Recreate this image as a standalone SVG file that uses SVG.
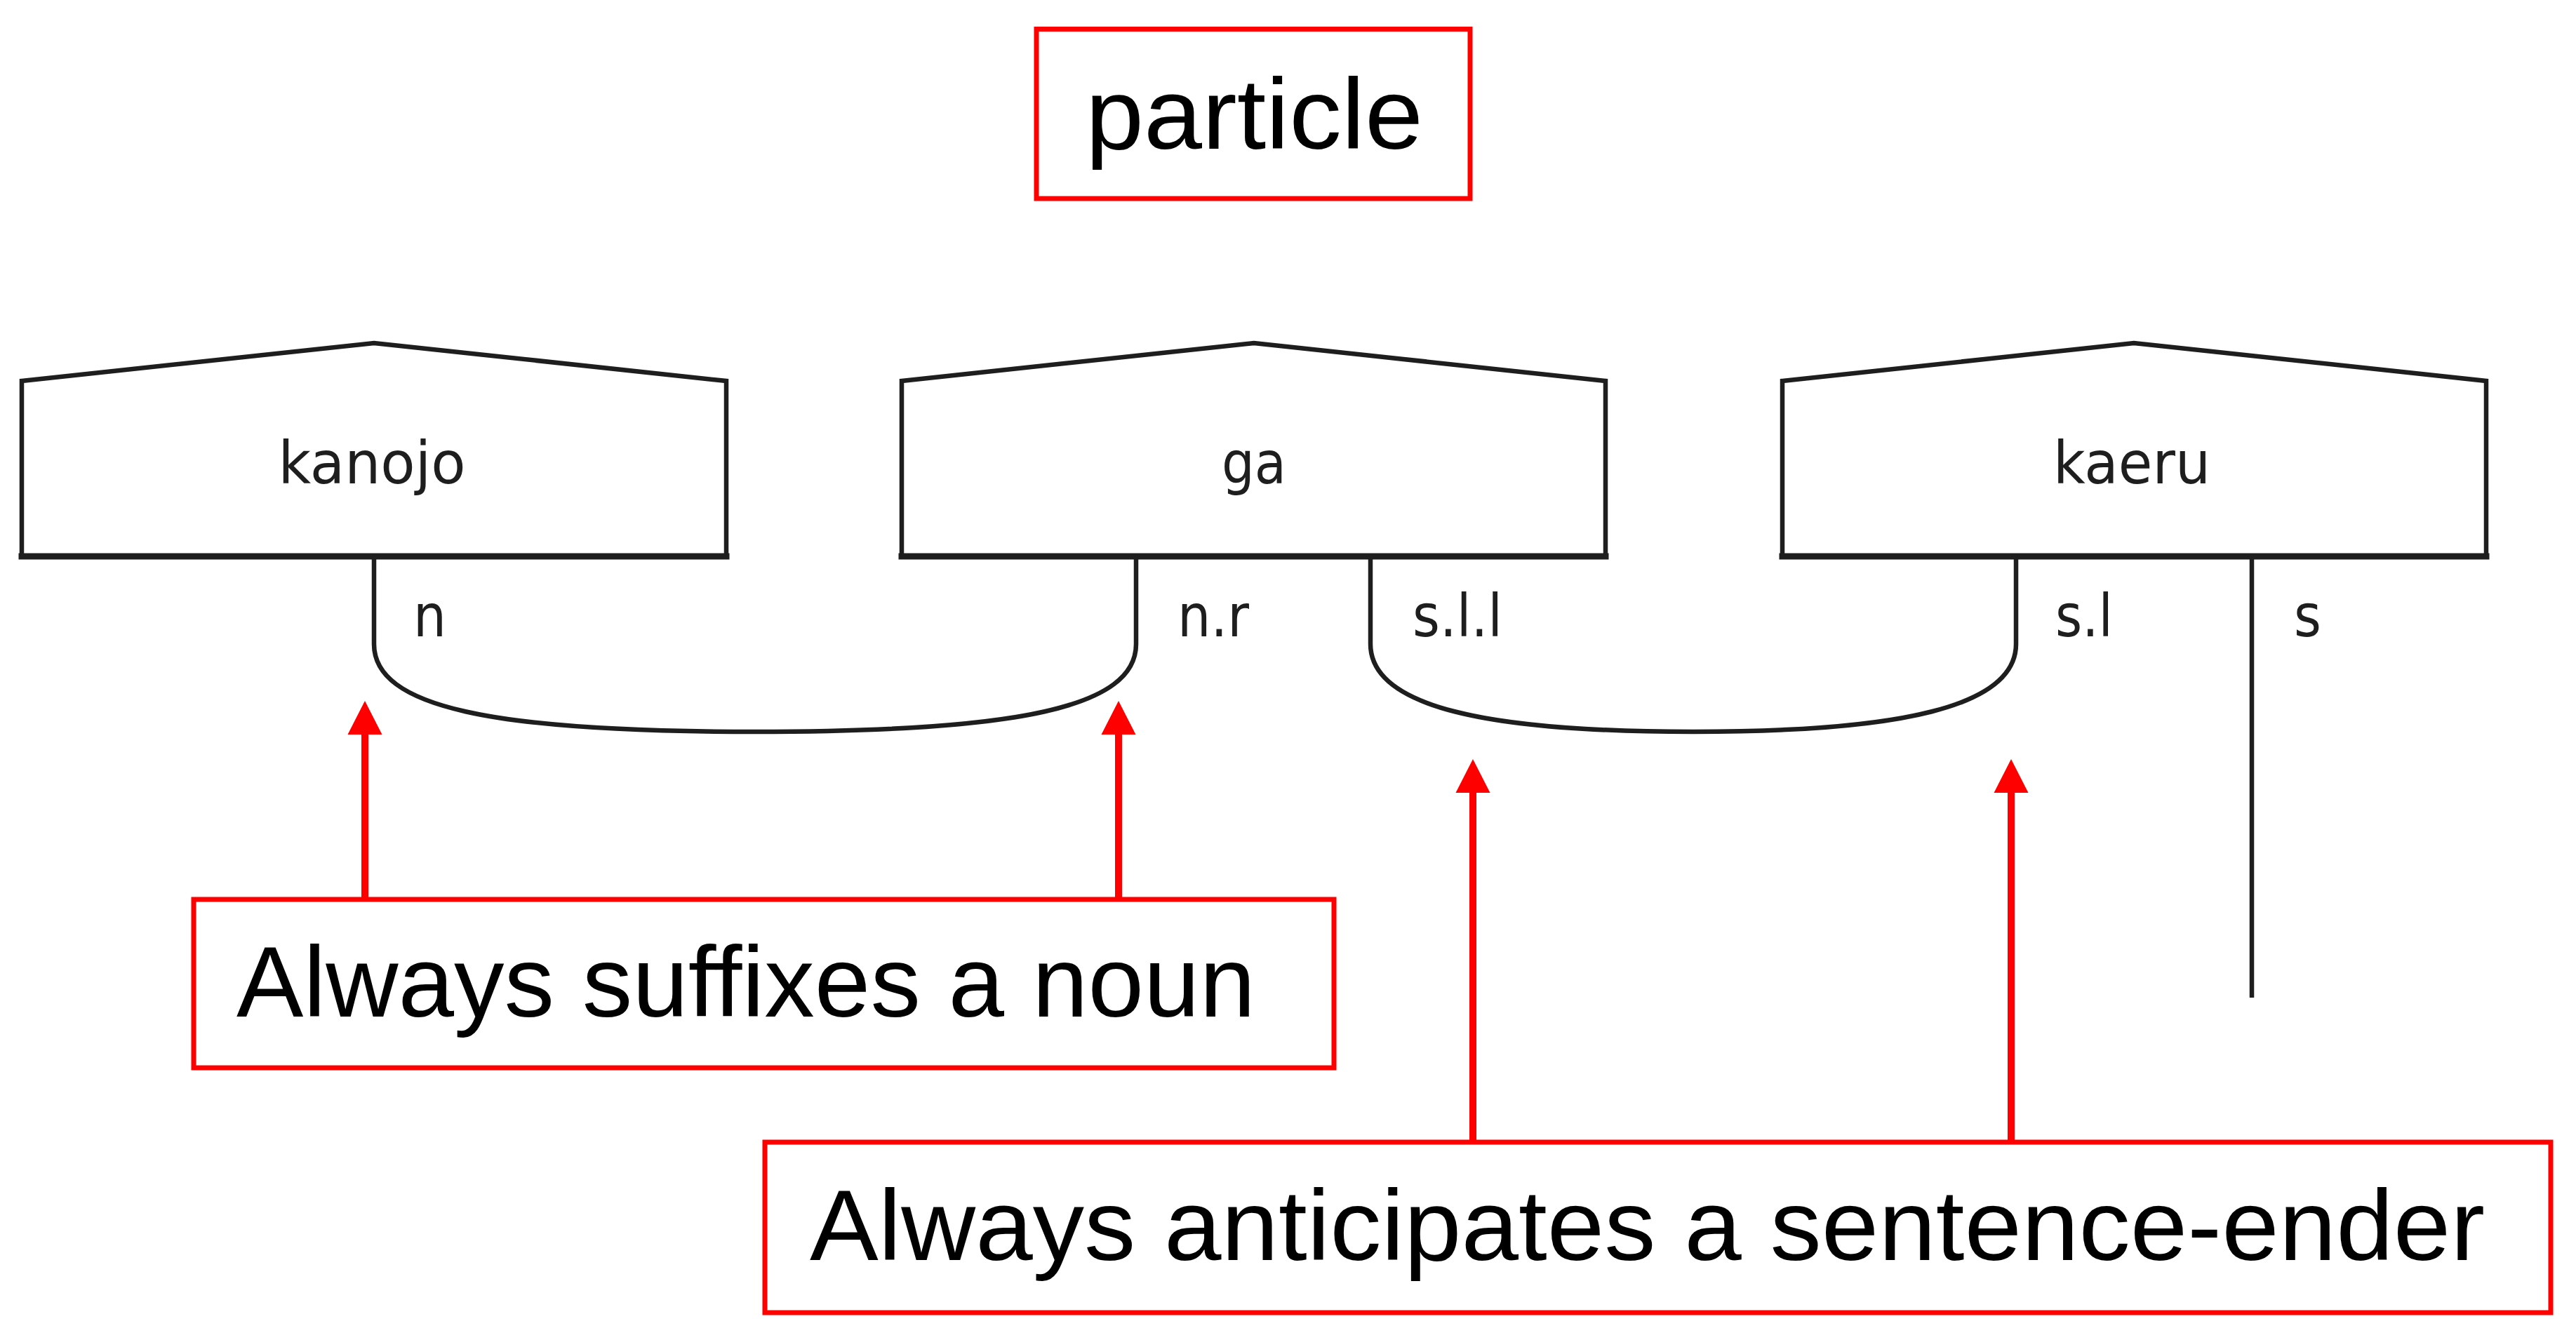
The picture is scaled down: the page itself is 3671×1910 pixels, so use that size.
<svg xmlns="http://www.w3.org/2000/svg" width="3671" height="1910" viewBox="0 0 3671 1910">
  <style>
    .node { fill: #ffffff; stroke: #1e1e1e; stroke-width: 6.5; stroke-linejoin: miter; }
    .base { stroke: #1e1e1e; stroke-width: 9; stroke-linecap: square; }
    .name { font-family: "DejaVu Sans", sans-serif; font-size: 84px; fill: #1e1e1e; text-anchor: middle; }
    .lbl { font-family: "DejaVu Sans", sans-serif; font-size: 84px; fill: #1e1e1e; }
    .wire { fill: none; stroke: #1e1e1e; stroke-width: 6.5; }
    .note { fill: #ffffff; stroke: #ff0000; stroke-width: 7; }
    .notetext { font-family: "Liberation Sans", Arial, sans-serif; font-size: 142px; fill: #000000; }
    .red { stroke: #ff0000; stroke-width: 10; fill: none; }
  </style>
  <defs>
    <marker id="ah" markerUnits="userSpaceOnUse" markerWidth="50" markerHeight="50" viewBox="0 0 50 50" refX="1" refY="25" orient="auto">
      <path d="M0,0.5 L48,25 L0,49.5 z" fill="#ff0000"/>
    </marker>
  </defs>
  <rect width="3671" height="1910" fill="#ffffff"/>

  <g id="title">
    <rect class="note" x="1477" y="41.5" width="618" height="241.5"/>
    <text class="notetext" x="1547" y="212" textLength="481" lengthAdjust="spacingAndGlyphs">particle</text>
  </g>

  <g id="node-kanojo">
    <polygon class="node" points="31,543 533,489 1035,543 1035,793 31,793"/>
    <line class="base" x1="31" y1="793" x2="1035" y2="793"/>
    <text class="name" x="530" y="689" textLength="267" lengthAdjust="spacingAndGlyphs">kanojo</text>
  </g>

  <g id="node-ga">
    <polygon class="node" points="1285,543 1787,489 2288,543 2288,793 1285,793"/>
    <line class="base" x1="1285" y1="793" x2="2288" y2="793"/>
    <text class="name" x="1787" y="689" textLength="92" lengthAdjust="spacingAndGlyphs">ga</text>
  </g>

  <g id="node-kaeru">
    <polygon class="node" points="2540,543 3041,489 3543,543 3543,793 2540,793"/>
    <line class="base" x1="2540" y1="793" x2="3543" y2="793"/>
    <text class="name" x="3038" y="689" textLength="224" lengthAdjust="spacingAndGlyphs">kaeru</text>
  </g>

  <g id="connectors">
    <path class="wire" d="M533,797 V918 C533,1008 700,1043 1076,1043 C1452,1043 1619,1008 1619,918 V797"/>
    <path class="wire" d="M1953,797 V918 C1953,1008 2120,1043 2413,1043 C2706,1043 2873,1008 2873,918 V797"/>
    <path class="wire" d="M3209,797 V1422"/>
    <text class="lbl" x="589" y="907" textLength="47" lengthAdjust="spacingAndGlyphs">n</text>
    <text class="lbl" x="1678" y="907" textLength="102" lengthAdjust="spacingAndGlyphs">n.r</text>
    <text class="lbl" x="2013" y="907" textLength="128" lengthAdjust="spacingAndGlyphs">s.l.l</text>
    <text class="lbl" x="2929" y="907" textLength="82" lengthAdjust="spacingAndGlyphs">s.l</text>
    <text class="lbl" x="3269" y="907" textLength="39" lengthAdjust="spacingAndGlyphs">s</text>
  </g>

  <g id="note-noun">
    <rect class="note" x="276" y="1282" width="1625" height="240"/>
    <text class="notetext" x="337" y="1449" textLength="1452" lengthAdjust="spacingAndGlyphs">Always suffixes a noun</text>
  </g>

  <g id="note-ender">
    <rect class="note" x="1090" y="1628" width="2545" height="243"/>
    <text class="notetext" x="1154" y="1796" textLength="2387" lengthAdjust="spacingAndGlyphs">Always anticipates a sentence-ender</text>
  </g>

  <g id="arrows">
    <line class="red" x1="520" y1="1282" x2="520" y2="1046" marker-end="url(#ah)"/>
    <line class="red" x1="1594" y1="1282" x2="1594" y2="1046" marker-end="url(#ah)"/>
    <line class="red" x1="2099" y1="1628" x2="2099" y2="1129" marker-end="url(#ah)"/>
    <line class="red" x1="2866" y1="1628" x2="2866" y2="1129" marker-end="url(#ah)"/>
  </g>
</svg>
